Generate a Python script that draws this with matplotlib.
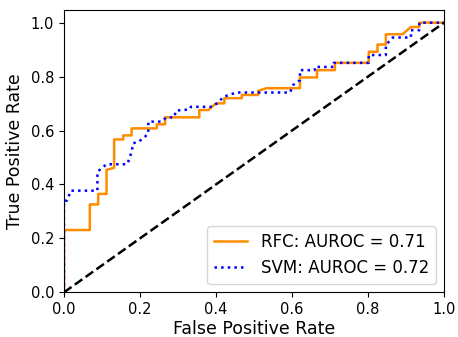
import matplotlib
matplotlib.use("Agg")
import matplotlib.pyplot as plt

# ROC curve points
rfc_fpr = [0.0, 0.0, 0.068, 0.068, 0.090, 0.090, 0.112, 0.112, 0.132, 0.132, 0.156, 0.156,
           0.178, 0.178, 0.244, 0.244, 0.266, 0.266, 0.356, 0.356, 0.380, 0.400, 0.422, 0.422,
           0.468, 0.468, 0.511, 0.511, 0.533, 0.621, 0.621, 0.666, 0.666, 0.713, 0.713, 0.802,
           0.802, 0.825, 0.825, 0.847, 0.847, 0.891, 0.913, 0.935, 0.935, 1.0]
rfc_tpr = [0.0, 0.231, 0.231, 0.326, 0.326, 0.365, 0.365, 0.454, 0.462, 0.567, 0.567, 0.582,
           0.582, 0.608, 0.608, 0.623, 0.623, 0.649, 0.649, 0.676, 0.676, 0.701, 0.701, 0.720,
           0.720, 0.732, 0.732, 0.747, 0.757, 0.757, 0.797, 0.797, 0.824, 0.824, 0.851, 0.851,
           0.892, 0.892, 0.919, 0.919, 0.957, 0.957, 0.984, 0.984, 1.0, 1.0]

svm_fpr = [0.0, 0.0, 0.008, 0.018, 0.088, 0.088, 0.112, 0.166, 0.169, 0.178, 0.182, 0.196,
           0.213, 0.222, 0.222, 0.256, 0.270, 0.290, 0.295, 0.330, 0.334, 0.390, 0.402, 0.421,
           0.454, 0.595, 0.603, 0.621, 0.621, 0.660, 0.660, 0.710, 0.710, 0.802, 0.802, 0.847,
           0.847, 0.865, 0.913, 0.913, 0.935, 0.935, 1.0]
svm_tpr = [0.0, 0.340, 0.340, 0.377, 0.377, 0.447, 0.475, 0.475, 0.484, 0.521, 0.553, 0.558,
           0.577, 0.590, 0.633, 0.633, 0.649, 0.649, 0.674, 0.678, 0.688, 0.688, 0.700, 0.726,
           0.741, 0.741, 0.769, 0.787, 0.824, 0.824, 0.836, 0.836, 0.851, 0.851, 0.880, 0.880,
           0.917, 0.945, 0.945, 0.972, 0.972, 1.0, 1.0]

rfc_auc = 0.71
svm_auc = 0.72

fig = plt.figure(figsize=(4.58, 3.37), dpi=100)
ax = fig.add_axes([0.1397, 0.1326, 0.8297, 0.8377])

ax.plot(rfc_fpr, rfc_tpr, color='darkorange', lw=1.8,
        label='RFC: AUROC = %0.2f' % rfc_auc)
ax.plot(svm_fpr, svm_tpr, color='blue', lw=1.8, linestyle=':',
        label='SVM: AUROC = %0.2f' % svm_auc)
ax.plot([0, 1], [0, 1], color='black', lw=1.8, linestyle='--')

ax.set_xlim(0.0, 1.0)
ax.set_ylim(0.0, 1.047)
ax.set_xlabel('False Positive Rate', fontsize=12.5, labelpad=2)
ax.set_ylabel('True Positive Rate', fontsize=12.5, labelpad=5)
ax.tick_params(labelsize=10.5)
ax.legend(loc='lower right', fontsize=12)

fig.savefig('out.png', dpi=100)
